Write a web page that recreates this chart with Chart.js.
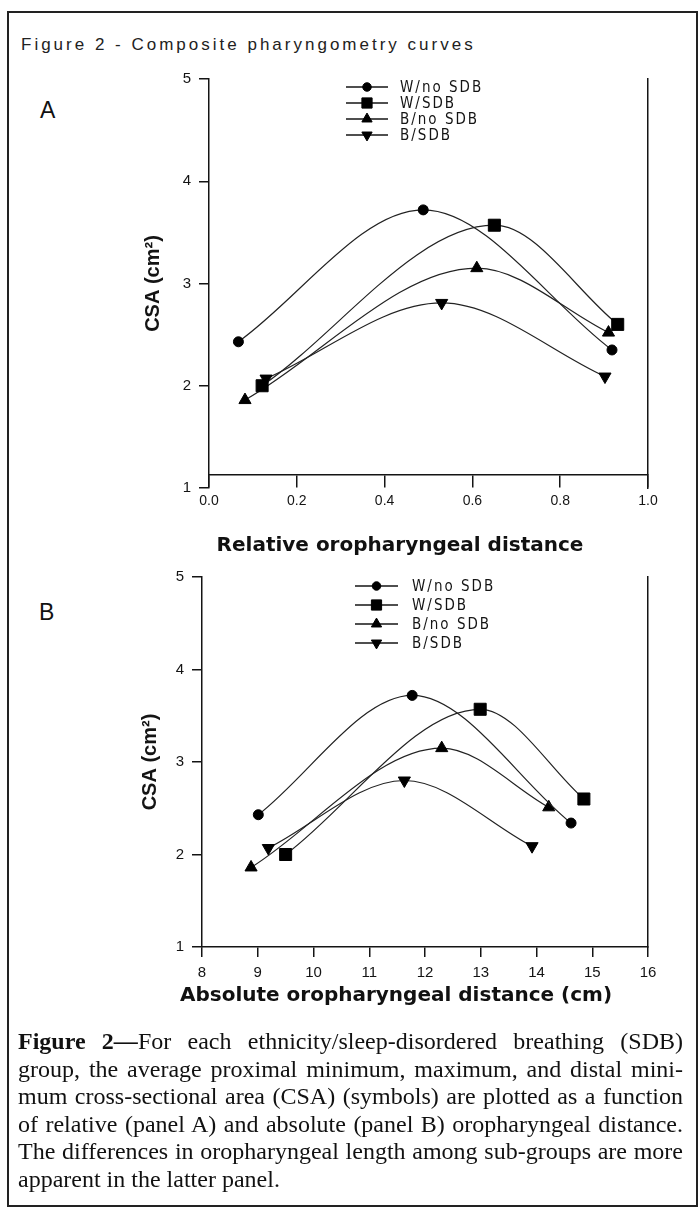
<!DOCTYPE html>
<html>
<head>
<meta charset="utf-8">
<script src="https://cdn.jsdelivr.net/npm/chart.js@4.4.1/dist/chart.umd.min.js"></script>
<style>
  html, body { margin: 0; padding: 0; background: #fff; }
  body { width: 699px; height: 1208px; position: relative; overflow: hidden; font-family: "Liberation Sans", Arial, sans-serif; color: #111; }
  #frame { position: absolute; left: 7px; top: 11px; width: 691px; height: 1196px; border: 2px solid #222; box-sizing: border-box; }
  #fig-title { position: absolute; left: 21px; top: 35px; font-size: 17px; letter-spacing: 3px; color: #222; white-space: nowrap; }
  .panel-letter { position: absolute; font-size: 23px; color: #111; }
  .x-title { position: absolute; font-family: "DejaVu Sans", sans-serif; font-weight: bold; font-size: 20px; color: #111; white-space: nowrap; transform: translateX(-50%); }
  canvas { position: absolute; left: 0; }
  #caption { position: absolute; left: 18px; top: 1028px; width: 665px; font-family: "Liberation Serif", "Times New Roman", serif; font-size: 24px; line-height: 27.5px; color: #111; }
  #caption .ln { text-align: justify; text-align-last: justify; }
  #caption .ln.last { text-align-last: left; }
</style>
</head>
<body>
<div id="frame"></div>
<div id="fig-title">Figure 2 - Composite pharyngometry curves</div>
<div class="panel-letter" style="left:40px; top:97px;">A</div>
<div class="panel-letter" style="left:39px; top:599px;">B</div>

<canvas id="chartA" width="699" height="520" style="top:60px;"></canvas>
<canvas id="chartB" width="699" height="470" style="top:560px;"></canvas>

<div class="x-title" style="left:400px; top:532px;">Relative oropharyngeal distance</div>
<div class="x-title" style="left:396px; top:982px;">Absolute oropharyngeal distance (cm)</div>

<div id="caption">
  <div class="ln"><b>Figure 2—</b>For each ethnicity/sleep-disordered breathing (SDB)</div>
  <div class="ln">group, the average proximal minimum, maximum, and distal mini-</div>
  <div class="ln">mum cross-sectional area (CSA) (symbols) are plotted as a function</div>
  <div class="ln">of relative (panel A) and absolute (panel B) oropharyngeal distance.</div>
  <div class="ln">The differences in oropharyngeal length among sub-groups are more</div>
  <div class="ln last">apparent in the latter panel.</div>
</div>

<script>
// ---------------- DATA ----------------
const seriesLabels = ['W/no SDB', 'W/SDB', 'B/no SDB', 'B/SDB'];

// Panel A: relative oropharyngeal distance vs CSA (cm²)
const relDist_WnoSDB = [0.067, 0.488, 0.918];
const relCSA_WnoSDB  = [2.43, 3.72, 2.35];
const relDist_WSDB   = [0.121, 0.650, 0.931];
const relCSA_WSDB    = [2.00, 3.57, 2.60];
const relDist_BnoSDB = [0.082, 0.610, 0.910];
const relCSA_BnoSDB  = [1.86, 3.15, 2.52];
const relDist_BSDB   = [0.130, 0.530, 0.902];
const relCSA_BSDB    = [2.07, 2.81, 2.09];

// Panel B: absolute oropharyngeal distance (cm) vs CSA (cm²)
const absDist_WnoSDB = [9.01, 11.77, 14.62];
const absCSA_WnoSDB  = [2.43, 3.72, 2.34];
const absDist_WSDB   = [9.50, 12.99, 14.85];
const absCSA_WSDB    = [2.00, 3.57, 2.60];
const absDist_BnoSDB = [8.88, 12.30, 14.22];
const absCSA_BnoSDB  = [1.86, 3.15, 2.51];
const absDist_BSDB   = [9.19, 11.63, 13.92];
const absCSA_BSDB    = [2.07, 2.80, 2.09];

// Tick labels
const csaTicks = [1, 2, 3, 4, 5];
const relTicks = [0.0, 0.2, 0.4, 0.6, 0.8, 1.0];
const absTicks = [8, 9, 10, 11, 12, 13, 14, 15, 16];

// ---------------- STYLE ----------------
const INK = '#141414';
const markerStyles = [
  { pointStyle: 'circle',   pointRadius: 5,   pointRotation: 0 },
  { pointStyle: 'rect',     pointRadius: 8.5, pointRotation: 0 },
  { pointStyle: 'triangle', pointRadius: 7,   pointRotation: 0 },
  { pointStyle: 'triangle', pointRadius: 7,   pointRotation: 180 }
];
const legendFont = '15px "Liberation Sans Narrow", "DejaVu Sans Condensed", "Liberation Sans", sans-serif';
const tickFamily = '"Liberation Sans", Arial, sans-serif';

function toPoints(xs, ys) { return xs.map((x, i) => ({ x: x, y: ys[i] })); }

function buildDatasets(seriesXs, seriesYs) {
  return seriesLabels.map((label, i) => Object.assign({
    label: label,
    data: toPoints(seriesXs[i], seriesYs[i]),
    showLine: true,
    borderColor: '#222',
    borderWidth: 1.2,
    backgroundColor: '#000',
    pointBackgroundColor: '#000',
    pointBorderColor: '#000',
    pointBorderWidth: 1,
    cubicInterpolationMode: 'monotone',
    fill: false,
    clip: false
  }, markerStyles[i]));
}

const insideLegend = {
  id: 'insideLegend',
  afterDatasetsDraw(chart, args, opts) {
    const ctx = chart.ctx;
    const area = chart.chartArea;
    ctx.save();
    chart.data.datasets.forEach((ds, i) => {
      const y = area.top + opts.top + i * opts.gap;
      const x0 = opts.left;
      ctx.strokeStyle = INK;
      ctx.lineWidth = 1.6;
      ctx.beginPath();
      ctx.moveTo(x0, y);
      ctx.lineTo(x0 + opts.lineLen, y);
      ctx.stroke();
      ctx.fillStyle = '#000';
      ctx.strokeStyle = '#000';
      ctx.lineWidth = 1;
      Chart.helpers.drawPoint(ctx, {
        pointStyle: ds.pointStyle,
        rotation: ds.pointRotation || 0,
        radius: ds.pointRadius * 0.85,
        borderWidth: 1
      }, x0 + opts.lineLen / 2, y);
      ctx.fillStyle = INK;
      ctx.font = legendFont;
      ctx.textBaseline = 'middle';
      ctx.textAlign = 'left';
      try { ctx.letterSpacing = '2px'; } catch (e) {}
      ctx.fillText(ds.label, x0 + opts.textOffset, y + 1);
      try { ctx.letterSpacing = '0px'; } catch (e) {}
    });
    ctx.restore();
  }
};

function fixedTicks(values) {
  return function (scale) { scale.ticks = values.map(v => ({ value: v })); };
}

function yAxis(width, titlePad) {
  return {
    type: 'linear',
    position: 'left',
    min: csaTicks[0],
    max: csaTicks[csaTicks.length - 1],
    afterBuildTicks: fixedTicks(csaTicks),
    afterFit: s => { s.width = width; },
    grid: { display: true, drawOnChartArea: false, drawTicks: true, tickLength: 10, color: INK, lineWidth: 1.5 },
    border: { display: true, color: INK, width: 1.5 },
    ticks: { padding: 8, color: INK, font: { family: tickFamily, size: 15 } },
    title: { display: true, text: 'CSA (cm²)', color: INK,
             font: { family: tickFamily, size: 20, weight: 'bold' },
             padding: { top: titlePad, bottom: 0 } }
  };
}

function rightFrame() {
  return {
    type: 'linear',
    position: 'right',
    min: csaTicks[0],
    max: csaTicks[csaTicks.length - 1],
    afterFit: s => { s.width = 0; },
    ticks: { display: false },
    grid: { display: false, drawTicks: false },
    border: { display: true, color: INK, width: 1.5 }
  };
}

const commonPlugins = {
  legend: { display: false },
  tooltip: { enabled: false }
};

// ---------------- PANEL A ----------------
new Chart(document.getElementById('chartA'), {
  type: 'scatter',
  data: {
    datasets: buildDatasets(
      [relDist_WnoSDB, relDist_WSDB, relDist_BnoSDB, relDist_BSDB],
      [relCSA_WnoSDB, relCSA_WSDB, relCSA_BnoSDB, relCSA_BSDB])
  },
  options: {
    responsive: false,
    animation: false,
    devicePixelRatio: 1,
    layout: { padding: { left: 0, top: 19, right: 51, bottom: 92 } },
    scales: {
      x: {
        type: 'linear',
        axis: 'x',
        position: { y: 1.125 },
        min: relTicks[0],
        max: relTicks[relTicks.length - 1],
        afterBuildTicks: fixedTicks(relTicks),
        grid: { display: true, drawOnChartArea: false, drawTicks: true, tickLength: 12, color: INK, lineWidth: 1.5 },
        border: { display: true, color: INK, width: 1.5 },
        ticks: { padding: 6, color: INK, maxRotation: 0, autoSkip: false,
                 font: { family: tickFamily, size: 14 },
                 callback: v => Number(v).toFixed(1) }
      },
      y: yAxis(209, 141),
      yr: rightFrame()
    },
    plugins: Object.assign({}, commonPlugins, {
      insideLegend: { left: 346, top: 8, gap: 16, lineLen: 42, textOffset: 54 }
    })
  },
  plugins: [insideLegend]
});

// ---------------- PANEL B ----------------
new Chart(document.getElementById('chartB'), {
  type: 'scatter',
  data: {
    datasets: buildDatasets(
      [absDist_WnoSDB, absDist_WSDB, absDist_BnoSDB, absDist_BSDB],
      [absCSA_WnoSDB, absCSA_WSDB, absCSA_BnoSDB, absCSA_BSDB])
  },
  options: {
    responsive: false,
    animation: false,
    devicePixelRatio: 1,
    layout: { padding: { left: 0, top: 16, right: 51, bottom: 0 } },
    scales: {
      x: {
        type: 'linear',
        position: 'bottom',
        min: absTicks[0],
        max: absTicks[absTicks.length - 1],
        afterBuildTicks: fixedTicks(absTicks),
        afterFit: s => { s.height = 83; },
        grid: { display: true, drawOnChartArea: false, drawTicks: true, tickLength: 10, color: INK, lineWidth: 1.5 },
        border: { display: true, color: INK, width: 1.5 },
        ticks: { padding: 7, color: INK, maxRotation: 0, autoSkip: false,
                 font: { family: tickFamily, size: 15 } }
      },
      y: yAxis(202, 138),
      yr: rightFrame()
    },
    plugins: Object.assign({}, commonPlugins, {
      insideLegend: { left: 355, top: 9, gap: 19, lineLen: 43, textOffset: 57 }
    })
  },
  plugins: [insideLegend]
});
</script>
</body>
</html>
